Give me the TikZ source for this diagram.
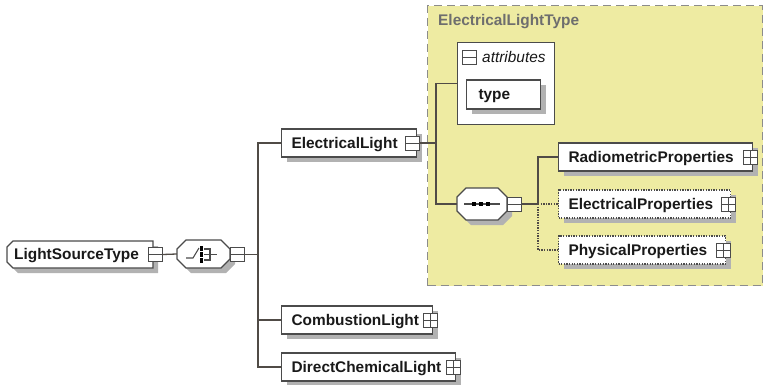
\documentclass[tikz,border=0pt]{standalone}
\usepackage{fontspec}
\setmainfont{Liberation Sans}
\usetikzlibrary{shadows,calc}
\definecolor{ybg}{RGB}{238,235,162}
\definecolor{ybd}{RGB}{140,140,140}
\definecolor{boxc}{RGB}{75,75,75}
\definecolor{linec}{RGB}{80,75,70}
\definecolor{shadc}{RGB}{178,178,178}
\definecolor{txtc}{RGB}{25,25,25}
\definecolor{lblc}{RGB}{110,110,110}
\newcommand\octpath[6]{%
 \path[#1] ({#2+#6},#3) -- ({#4-#6},#3) -- (#4,{#3+#6}) -- (#4,{#5-#6}) -- ({#4-#6},#5) -- ({#2+#6},#5) -- (#2,{#5-#6}) -- (#2,{#3+#6}) -- cycle;}
\newcommand\lstpath[1]{%
 \path[#1] (13,241) -- (153,241) -- (153,268) -- (13,268) -- (7,262) -- (7,247) -- cycle;}
\begin{document}
\begin{tikzpicture}[x=1pt,y=-1pt,
  conn/.style={draw=linec, line width=1.3pt},
  optconn/.style={conn, dash pattern=on 1.3pt off 1.3pt},
  shad/.style={drop shadow={shadow xshift=5pt, shadow yshift=-5pt, fill=shadc, opacity=1}},
  txt/.style={font=\bfseries\fontsize{15.4}{18}\selectfont, text=txtc, text height=12pt, text depth=1.5pt},
  elem/.style={rectangle, draw=boxc, fill=white, line width=1.1pt, minimum height=28pt,
    inner xsep=10pt, inner ysep=0pt, text width=#1, align=left, anchor=west, txt, shad},
  optelem/.style={elem=#1, dash pattern=on 1.3pt off 1.3pt},
  expminus/.style={rectangle, draw=boxc, fill=white, line width=0.9pt, minimum size=14pt, inner sep=0pt,
    path picture={\draw[boxc, line width=0.9pt] (path picture bounding box.west) -- (path picture bounding box.east);}},
  expplus/.style={rectangle, draw=boxc, fill=white, line width=0.9pt, minimum size=14pt, inner sep=0pt,
    path picture={\draw[boxc, line width=0.9pt] (path picture bounding box.west) -- (path picture bounding box.east)
      (path picture bounding box.north) -- (path picture bounding box.south);}},
  octo/.style={draw=boxc, fill=white, line width=1.1pt},
]
\useasboundingbox (0,0) rectangle (766,384);

% container for ElectricalLightType
\node[draw=ybd, fill=ybg, line width=1.3pt, dash pattern=on 8pt off 5pt, anchor=north west,
  minimum width=335pt, minimum height=280pt, inner sep=0pt] (eltype) at (427,5) {};
\node[anchor=west, inner sep=0pt, font=\bfseries\fontsize{15.4}{18}\selectfont, text=lblc] (eltlabel) at (438,22) {ElectricalLightType};

% LightSourceType
\lstpath{fill=shadc, shift={(5,5)}}
\lstpath{octo}
\node[anchor=west, inner xsep=7pt, inner ysep=0pt, minimum height=27pt, text width=132pt, align=left, txt] (lst) at (7,254.5) {LightSourceType};
\node[expminus] (lstx) at (155,254.5) {};

% choice compositor
\octpath{fill=shadc, shift={(5,5)}}{177}{240}{230}{268}{9}
\octpath{octo}{177}{240}{230}{268}{9}
\node[minimum width=53pt, minimum height=28pt, inner sep=0pt] (choice) at (203.5,254) {};
\draw[boxc, line width=1.1pt] (186,258) -- (193,258) -- (199,248);
\fill[black] (199.5,246) rectangle (203,250.5);
\fill[black] (199.5,252) rectangle (203,256.5);
\fill[black] (199.5,258) rectangle (203,262.5);
\draw[boxc, line width=1.1pt] (204,249) -- (210,249) -- (210,260) -- (204,260) (204,254.5) -- (217,254.5);
\node[expminus] (chx) at (237.5,254.5) {};

% children of choice
\node[elem=115pt] (el) at (281,143) {ElectricalLight};
\node[expminus] (elx) at (412,143) {};
\node[elem=131pt] (cl) at (281,320) {CombustionLight};
\node[expplus] (clx) at (430,320) {};
\node[elem=154pt] (dcl) at (281,367) {DirectChemicalLight};
\node[expplus] (dclx) at (453,367) {};

\coordinate (trunk) at (258,254.5);
\draw[conn] (lstx.east) -- (choice.west);
\draw[conn] (chx.east) -- (trunk);
\draw[conn] (trunk) |- (el.west);
\draw[conn] (trunk) |- (cl.west);
\draw[conn] (trunk) |- (dcl.west);

% attributes
\node[draw=boxc, fill=white, line width=1.1pt, anchor=north west, minimum width=97pt, minimum height=82pt,
  inner sep=0pt] (attr) at (457,42) {};
\node[expminus] (attrx) at (469.5,57) {};
\node[anchor=west, inner sep=0pt, font=\itshape\fontsize{15.4}{18}\selectfont, text=txtc] (attrl) at (482,57) {attributes};
\node[elem=50pt, inner xsep=12pt, minimum height=29pt] (type) at (466,94.5) {type};

% sequence compositor
\octpath{fill=shadc, shift={(5,5)}}{457}{188}{507}{220}{9}
\octpath{octo}{457}{188}{507}{220}{9}
\node[minimum width=50pt, minimum height=32pt, inner sep=0pt] (seq) at (482,204) {};
\draw[boxc, line width=1.1pt] (464,204) -- (500,204);
\foreach \dx in {474,481,488} \fill[black] (\dx-2,202) rectangle (\dx+2,206);
\node[expminus] (seqx) at (514.5,204) {};

\coordinate (t2) at (436,143);
\draw[conn] (elx.east) -- (t2);
\draw[conn] (t2) |- (attr.west);
\draw[conn] (t2) |- (seq.west);

% sequence children
\node[elem=174pt] (rad) at (558,157) {RadiometricProperties};
\node[expplus] (radx) at (750,157) {};
\node[optelem=152pt] (ep) at (558,204) {ElectricalProperties};
\node[expplus] (epx) at (728,204) {};
\node[optelem=147pt] (pp) at (558,250) {PhysicalProperties};
\node[expplus] (ppx) at (723,250) {};

\coordinate (t3) at (538,204);
\draw[conn] (seqx.east) -- (t3);
\draw[conn] (t3) |- (rad.west);
\draw[optconn] (t3) -- (ep.west);
\draw[optconn] (t3) |- (pp.west);
\end{tikzpicture}
\end{document}
